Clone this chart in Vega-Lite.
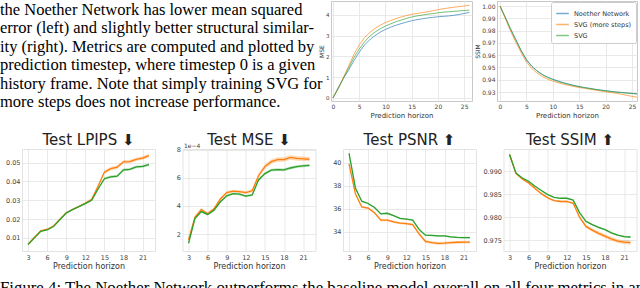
{
"$schema": "https://vega.github.io/schema/vega-lite/v6.json",
"padding": 0,
"background": "white",
"config": {
  "font": "DejaVu Sans",
  "view": {"stroke": "#d9d9d9"},
  "axis": {"grid": true, "gridColor": "#e3e3e3", "gridWidth": 0.8, "domain": false, "ticks": false, "labelFontSize": 6.5, "labelColor": "#444444", "labelPadding": 2, "labelOverlap": false, "titleFontSize": 8, "titleFontWeight": "normal", "titleColor": "#333333", "titlePadding": 2},
  "title": {"fontSize": 15, "fontWeight": "normal", "color": "#222222", "offset": 1},
  "legend": {"orient": "top-right", "offset": 2, "fillColor": "rgba(255,255,255,0.85)", "strokeColor": "#cccccc", "padding": 3, "cornerRadius": 2, "labelFontSize": 6, "labelColor": "#333333", "symbolType": "stroke", "symbolStrokeWidth": 1.5, "symbolSize": 120, "rowPadding": 1, "title": null, "labelLimit": 200}
},
"datasets": {
  "para": [
    {"line": 1, "indent": 0, "text": "the Noether Network has lower mean squared"},
    {"line": 2, "indent": 0, "text": "error (left) and slightly better structural similar-"},
    {"line": 3, "indent": 0, "text": "ity (right). Metrics are computed and plotted by"},
    {"line": 4, "indent": 0, "text": "prediction timestep, where timestep 0 is a given"},
    {"line": 5, "indent": 0, "text": "history frame. Note that simply training SVG for"},
    {"line": 6, "indent": 0, "text": "more steps does not increase performance."}
  ],
  "caption": [
    {"line": 1, "indent": 0, "text": "Figure 4: The Noether Network outperforms the baseline model overall on all four metrics in and"}
  ],
  "top_mse": [
    {"model":"Noether Network","t":0,"v":0},{"model":"Noether Network","t":1,"v":0.5},{"model":"Noether Network","t":2,"v":0.95},{"model":"Noether Network","t":3,"v":1.35},{"model":"Noether Network","t":4,"v":1.8},{"model":"Noether Network","t":5,"v":2.2},{"model":"Noether Network","t":6,"v":2.55},{"model":"Noether Network","t":7,"v":2.8},{"model":"Noether Network","t":8,"v":3.0},{"model":"Noether Network","t":9,"v":3.17},{"model":"Noether Network","t":10,"v":3.3},{"model":"Noether Network","t":11,"v":3.41},{"model":"Noether Network","t":12,"v":3.5},{"model":"Noether Network","t":13,"v":3.58},{"model":"Noether Network","t":14,"v":3.65},{"model":"Noether Network","t":15,"v":3.72},{"model":"Noether Network","t":16,"v":3.77},{"model":"Noether Network","t":17,"v":3.81},{"model":"Noether Network","t":18,"v":3.85},{"model":"Noether Network","t":19,"v":3.88},{"model":"Noether Network","t":20,"v":3.91},{"model":"Noether Network","t":21,"v":3.93},{"model":"Noether Network","t":22,"v":3.95},{"model":"Noether Network","t":23,"v":3.98},{"model":"Noether Network","t":24,"v":4.02},{"model":"Noether Network","t":25,"v":4.07},{"model":"Noether Network","t":26,"v":4.12},
    {"model":"SVG (more steps)","t":0,"v":0},{"model":"SVG (more steps)","t":1,"v":0.45},{"model":"SVG (more steps)","t":2,"v":1.0},{"model":"SVG (more steps)","t":3,"v":1.55},{"model":"SVG (more steps)","t":4,"v":2.1},{"model":"SVG (more steps)","t":5,"v":2.55},{"model":"SVG (more steps)","t":6,"v":2.9},{"model":"SVG (more steps)","t":7,"v":3.15},{"model":"SVG (more steps)","t":8,"v":3.35},{"model":"SVG (more steps)","t":9,"v":3.5},{"model":"SVG (more steps)","t":10,"v":3.63},{"model":"SVG (more steps)","t":11,"v":3.73},{"model":"SVG (more steps)","t":12,"v":3.82},{"model":"SVG (more steps)","t":13,"v":3.9},{"model":"SVG (more steps)","t":14,"v":3.97},{"model":"SVG (more steps)","t":15,"v":4.03},{"model":"SVG (more steps)","t":16,"v":4.07},{"model":"SVG (more steps)","t":17,"v":4.11},{"model":"SVG (more steps)","t":18,"v":4.15},{"model":"SVG (more steps)","t":19,"v":4.2},{"model":"SVG (more steps)","t":20,"v":4.25},{"model":"SVG (more steps)","t":21,"v":4.3},{"model":"SVG (more steps)","t":22,"v":4.33},{"model":"SVG (more steps)","t":23,"v":4.37},{"model":"SVG (more steps)","t":24,"v":4.4},{"model":"SVG (more steps)","t":25,"v":4.43},{"model":"SVG (more steps)","t":26,"v":4.46},
    {"model":"SVG","t":0,"v":0},{"model":"SVG","t":1,"v":0.45},{"model":"SVG","t":2,"v":0.95},{"model":"SVG","t":3,"v":1.45},{"model":"SVG","t":4,"v":1.95},{"model":"SVG","t":5,"v":2.35},{"model":"SVG","t":6,"v":2.7},{"model":"SVG","t":7,"v":2.97},{"model":"SVG","t":8,"v":3.17},{"model":"SVG","t":9,"v":3.33},{"model":"SVG","t":10,"v":3.46},{"model":"SVG","t":11,"v":3.57},{"model":"SVG","t":12,"v":3.67},{"model":"SVG","t":13,"v":3.75},{"model":"SVG","t":14,"v":3.83},{"model":"SVG","t":15,"v":3.9},{"model":"SVG","t":16,"v":3.95},{"model":"SVG","t":17,"v":3.99},{"model":"SVG","t":18,"v":4.03},{"model":"SVG","t":19,"v":4.06},{"model":"SVG","t":20,"v":4.1},{"model":"SVG","t":21,"v":4.13},{"model":"SVG","t":22,"v":4.15},{"model":"SVG","t":23,"v":4.17},{"model":"SVG","t":24,"v":4.19},{"model":"SVG","t":25,"v":4.21},{"model":"SVG","t":26,"v":4.23}
  ],
  "top_ssim": [
    {"model":"Noether Network","t":0,"v":1.0},{"model":"Noether Network","t":1,"v":0.9905},{"model":"Noether Network","t":2,"v":0.981},{"model":"Noether Network","t":3,"v":0.9725},{"model":"Noether Network","t":4,"v":0.9635},{"model":"Noether Network","t":5,"v":0.956},{"model":"Noether Network","t":6,"v":0.951},{"model":"Noether Network","t":7,"v":0.9472},{"model":"Noether Network","t":8,"v":0.9443},{"model":"Noether Network","t":9,"v":0.9421},{"model":"Noether Network","t":10,"v":0.9405},{"model":"Noether Network","t":11,"v":0.939},{"model":"Noether Network","t":12,"v":0.9377},{"model":"Noether Network","t":13,"v":0.9365},{"model":"Noether Network","t":14,"v":0.9354},{"model":"Noether Network","t":15,"v":0.9345},{"model":"Noether Network","t":16,"v":0.9337},{"model":"Noether Network","t":17,"v":0.933},{"model":"Noether Network","t":18,"v":0.9323},{"model":"Noether Network","t":19,"v":0.9317},{"model":"Noether Network","t":20,"v":0.9311},{"model":"Noether Network","t":21,"v":0.9306},{"model":"Noether Network","t":22,"v":0.9301},{"model":"Noether Network","t":23,"v":0.9297},{"model":"Noether Network","t":24,"v":0.9293},{"model":"Noether Network","t":25,"v":0.9289},{"model":"Noether Network","t":26,"v":0.9285},
    {"model":"SVG (more steps)","t":0,"v":1.0},{"model":"SVG (more steps)","t":1,"v":0.99},{"model":"SVG (more steps)","t":2,"v":0.9795},{"model":"SVG (more steps)","t":3,"v":0.9705},{"model":"SVG (more steps)","t":4,"v":0.962},{"model":"SVG (more steps)","t":5,"v":0.9545},{"model":"SVG (more steps)","t":6,"v":0.9493},{"model":"SVG (more steps)","t":7,"v":0.9455},{"model":"SVG (more steps)","t":8,"v":0.9427},{"model":"SVG (more steps)","t":9,"v":0.9405},{"model":"SVG (more steps)","t":10,"v":0.9389},{"model":"SVG (more steps)","t":11,"v":0.9376},{"model":"SVG (more steps)","t":12,"v":0.9364},{"model":"SVG (more steps)","t":13,"v":0.9354},{"model":"SVG (more steps)","t":14,"v":0.9345},{"model":"SVG (more steps)","t":15,"v":0.9337},{"model":"SVG (more steps)","t":16,"v":0.933},{"model":"SVG (more steps)","t":17,"v":0.9323},{"model":"SVG (more steps)","t":18,"v":0.9316},{"model":"SVG (more steps)","t":19,"v":0.9309},{"model":"SVG (more steps)","t":20,"v":0.9302},{"model":"SVG (more steps)","t":21,"v":0.9296},{"model":"SVG (more steps)","t":22,"v":0.929},{"model":"SVG (more steps)","t":23,"v":0.9282},{"model":"SVG (more steps)","t":24,"v":0.9273},{"model":"SVG (more steps)","t":25,"v":0.9265},{"model":"SVG (more steps)","t":26,"v":0.9258},
    {"model":"SVG","t":0,"v":1.0},{"model":"SVG","t":1,"v":0.991},{"model":"SVG","t":2,"v":0.9815},{"model":"SVG","t":3,"v":0.9725},{"model":"SVG","t":4,"v":0.964},{"model":"SVG","t":5,"v":0.9565},{"model":"SVG","t":6,"v":0.9512},{"model":"SVG","t":7,"v":0.9472},{"model":"SVG","t":8,"v":0.9442},{"model":"SVG","t":9,"v":0.9419},{"model":"SVG","t":10,"v":0.9401},{"model":"SVG","t":11,"v":0.9386},{"model":"SVG","t":12,"v":0.9373},{"model":"SVG","t":13,"v":0.9362},{"model":"SVG","t":14,"v":0.9352},{"model":"SVG","t":15,"v":0.9343},{"model":"SVG","t":16,"v":0.9335},{"model":"SVG","t":17,"v":0.9328},{"model":"SVG","t":18,"v":0.9321},{"model":"SVG","t":19,"v":0.9315},{"model":"SVG","t":20,"v":0.9309},{"model":"SVG","t":21,"v":0.9304},{"model":"SVG","t":22,"v":0.9299},{"model":"SVG","t":23,"v":0.9295},{"model":"SVG","t":24,"v":0.9291},{"model":"SVG","t":25,"v":0.9288},{"model":"SVG","t":26,"v":0.9285}
  ],
  "bottom": [
    {"metric":"LPIPS","model":"SVG baseline","h":3,"v":0.0066,"lo":0.0064,"hi":0.0068},{"metric":"LPIPS","model":"SVG baseline","h":4,"v":0.0102,"lo":0.0100,"hi":0.0104},{"metric":"LPIPS","model":"SVG baseline","h":5,"v":0.0138,"lo":0.0136,"hi":0.0140},{"metric":"LPIPS","model":"SVG baseline","h":6,"v":0.0146,"lo":0.0144,"hi":0.0148},{"metric":"LPIPS","model":"SVG baseline","h":7,"v":0.0163,"lo":0.0161,"hi":0.0165},{"metric":"LPIPS","model":"SVG baseline","h":8,"v":0.0199,"lo":0.0197,"hi":0.0201},{"metric":"LPIPS","model":"SVG baseline","h":9,"v":0.0234,"lo":0.0232,"hi":0.0236},{"metric":"LPIPS","model":"SVG baseline","h":10,"v":0.0252,"lo":0.0250,"hi":0.0254},{"metric":"LPIPS","model":"SVG baseline","h":11,"v":0.0268,"lo":0.0266,"hi":0.0270},{"metric":"LPIPS","model":"SVG baseline","h":12,"v":0.0285,"lo":0.0283,"hi":0.0287},{"metric":"LPIPS","model":"SVG baseline","h":13,"v":0.0305,"lo":0.0302,"hi":0.0308},{"metric":"LPIPS","model":"SVG baseline","h":14,"v":0.0375,"lo":0.0369,"hi":0.0381},{"metric":"LPIPS","model":"SVG baseline","h":15,"v":0.0450,"lo":0.0441,"hi":0.0459},{"metric":"LPIPS","model":"SVG baseline","h":16,"v":0.0468,"lo":0.0459,"hi":0.0477},{"metric":"LPIPS","model":"SVG baseline","h":17,"v":0.0476,"lo":0.0467,"hi":0.0485},{"metric":"LPIPS","model":"SVG baseline","h":18,"v":0.0505,"lo":0.0496,"hi":0.0514},{"metric":"LPIPS","model":"SVG baseline","h":19,"v":0.0506,"lo":0.0497,"hi":0.0515},{"metric":"LPIPS","model":"SVG baseline","h":20,"v":0.0518,"lo":0.0509,"hi":0.0527},{"metric":"LPIPS","model":"SVG baseline","h":21,"v":0.0525,"lo":0.0516,"hi":0.0534},{"metric":"LPIPS","model":"SVG baseline","h":22,"v":0.0538,"lo":0.0529,"hi":0.0547},
    {"metric":"LPIPS","model":"Noether Network (1 step)","h":3,"v":0.0065,"lo":0.0063,"hi":0.0067},{"metric":"LPIPS","model":"Noether Network (1 step)","h":4,"v":0.0100,"lo":0.0098,"hi":0.0102},{"metric":"LPIPS","model":"Noether Network (1 step)","h":5,"v":0.0135,"lo":0.0133,"hi":0.0137},{"metric":"LPIPS","model":"Noether Network (1 step)","h":6,"v":0.0142,"lo":0.0140,"hi":0.0144},{"metric":"LPIPS","model":"Noether Network (1 step)","h":7,"v":0.0160,"lo":0.0158,"hi":0.0162},{"metric":"LPIPS","model":"Noether Network (1 step)","h":8,"v":0.0196,"lo":0.0194,"hi":0.0198},{"metric":"LPIPS","model":"Noether Network (1 step)","h":9,"v":0.0232,"lo":0.0230,"hi":0.0234},{"metric":"LPIPS","model":"Noether Network (1 step)","h":10,"v":0.0250,"lo":0.0248,"hi":0.0252},{"metric":"LPIPS","model":"Noether Network (1 step)","h":11,"v":0.0266,"lo":0.0264,"hi":0.0268},{"metric":"LPIPS","model":"Noether Network (1 step)","h":12,"v":0.0282,"lo":0.0280,"hi":0.0284},{"metric":"LPIPS","model":"Noether Network (1 step)","h":13,"v":0.0300,"lo":0.0297,"hi":0.0303},{"metric":"LPIPS","model":"Noether Network (1 step)","h":14,"v":0.0360,"lo":0.0355,"hi":0.0365},{"metric":"LPIPS","model":"Noether Network (1 step)","h":15,"v":0.0415,"lo":0.0408,"hi":0.0422},{"metric":"LPIPS","model":"Noether Network (1 step)","h":16,"v":0.0425,"lo":0.0418,"hi":0.0432},{"metric":"LPIPS","model":"Noether Network (1 step)","h":17,"v":0.0428,"lo":0.0421,"hi":0.0435},{"metric":"LPIPS","model":"Noether Network (1 step)","h":18,"v":0.0462,"lo":0.0455,"hi":0.0469},{"metric":"LPIPS","model":"Noether Network (1 step)","h":19,"v":0.0465,"lo":0.0458,"hi":0.0472},{"metric":"LPIPS","model":"Noether Network (1 step)","h":20,"v":0.0478,"lo":0.0471,"hi":0.0485},{"metric":"LPIPS","model":"Noether Network (1 step)","h":21,"v":0.0480,"lo":0.0473,"hi":0.0487},{"metric":"LPIPS","model":"Noether Network (1 step)","h":22,"v":0.0490,"lo":0.0483,"hi":0.0497},
    {"metric":"MSE","model":"SVG baseline","h":3,"v":1.60,"lo":1.50,"hi":1.70},{"metric":"MSE","model":"SVG baseline","h":4,"v":3.20,"lo":3.10,"hi":3.30},{"metric":"MSE","model":"SVG baseline","h":5,"v":3.75,"lo":3.65,"hi":3.85},{"metric":"MSE","model":"SVG baseline","h":6,"v":3.45,"lo":3.35,"hi":3.55},{"metric":"MSE","model":"SVG baseline","h":7,"v":3.80,"lo":3.70,"hi":3.90},{"metric":"MSE","model":"SVG baseline","h":8,"v":4.50,"lo":4.40,"hi":4.60},{"metric":"MSE","model":"SVG baseline","h":9,"v":4.95,"lo":4.85,"hi":5.05},{"metric":"MSE","model":"SVG baseline","h":10,"v":5.05,"lo":4.95,"hi":5.15},{"metric":"MSE","model":"SVG baseline","h":11,"v":5.02,"lo":4.92,"hi":5.12},{"metric":"MSE","model":"SVG baseline","h":12,"v":4.95,"lo":4.85,"hi":5.05},{"metric":"MSE","model":"SVG baseline","h":13,"v":5.08,"lo":4.96,"hi":5.20},{"metric":"MSE","model":"SVG baseline","h":14,"v":6.15,"lo":6.00,"hi":6.30},{"metric":"MSE","model":"SVG baseline","h":15,"v":6.80,"lo":6.64,"hi":6.96},{"metric":"MSE","model":"SVG baseline","h":16,"v":7.15,"lo":6.99,"hi":7.31},{"metric":"MSE","model":"SVG baseline","h":17,"v":7.30,"lo":7.14,"hi":7.46},{"metric":"MSE","model":"SVG baseline","h":18,"v":7.30,"lo":7.14,"hi":7.46},{"metric":"MSE","model":"SVG baseline","h":19,"v":7.45,"lo":7.29,"hi":7.61},{"metric":"MSE","model":"SVG baseline","h":20,"v":7.38,"lo":7.22,"hi":7.54},{"metric":"MSE","model":"SVG baseline","h":21,"v":7.35,"lo":7.19,"hi":7.51},{"metric":"MSE","model":"SVG baseline","h":22,"v":7.32,"lo":7.16,"hi":7.48},
    {"metric":"MSE","model":"Noether Network (1 step)","h":3,"v":1.35,"lo":1.27,"hi":1.43},{"metric":"MSE","model":"Noether Network (1 step)","h":4,"v":3.10,"lo":3.02,"hi":3.18},{"metric":"MSE","model":"Noether Network (1 step)","h":5,"v":3.60,"lo":3.52,"hi":3.68},{"metric":"MSE","model":"Noether Network (1 step)","h":6,"v":3.40,"lo":3.32,"hi":3.48},{"metric":"MSE","model":"Noether Network (1 step)","h":7,"v":3.70,"lo":3.62,"hi":3.78},{"metric":"MSE","model":"Noether Network (1 step)","h":8,"v":4.30,"lo":4.22,"hi":4.38},{"metric":"MSE","model":"Noether Network (1 step)","h":9,"v":4.72,"lo":4.64,"hi":4.80},{"metric":"MSE","model":"Noether Network (1 step)","h":10,"v":4.88,"lo":4.80,"hi":4.96},{"metric":"MSE","model":"Noether Network (1 step)","h":11,"v":4.85,"lo":4.77,"hi":4.93},{"metric":"MSE","model":"Noether Network (1 step)","h":12,"v":4.70,"lo":4.62,"hi":4.78},{"metric":"MSE","model":"Noether Network (1 step)","h":13,"v":4.78,"lo":4.70,"hi":4.86},{"metric":"MSE","model":"Noether Network (1 step)","h":14,"v":5.85,"lo":5.75,"hi":5.95},{"metric":"MSE","model":"Noether Network (1 step)","h":15,"v":6.30,"lo":6.20,"hi":6.40},{"metric":"MSE","model":"Noether Network (1 step)","h":16,"v":6.55,"lo":6.45,"hi":6.65},{"metric":"MSE","model":"Noether Network (1 step)","h":17,"v":6.58,"lo":6.48,"hi":6.68},{"metric":"MSE","model":"Noether Network (1 step)","h":18,"v":6.56,"lo":6.46,"hi":6.66},{"metric":"MSE","model":"Noether Network (1 step)","h":19,"v":6.70,"lo":6.60,"hi":6.80},{"metric":"MSE","model":"Noether Network (1 step)","h":20,"v":6.80,"lo":6.70,"hi":6.90},{"metric":"MSE","model":"Noether Network (1 step)","h":21,"v":6.85,"lo":6.75,"hi":6.95},{"metric":"MSE","model":"Noether Network (1 step)","h":22,"v":6.88,"lo":6.78,"hi":6.98},
    {"metric":"PSNR","model":"SVG baseline","h":3,"v":39.90,"lo":39.82,"hi":39.98},{"metric":"PSNR","model":"SVG baseline","h":4,"v":37.30,"lo":37.22,"hi":37.38},{"metric":"PSNR","model":"SVG baseline","h":5,"v":36.15,"lo":36.07,"hi":36.23},{"metric":"PSNR","model":"SVG baseline","h":6,"v":36.05,"lo":35.97,"hi":36.13},{"metric":"PSNR","model":"SVG baseline","h":7,"v":35.65,"lo":35.57,"hi":35.73},{"metric":"PSNR","model":"SVG baseline","h":8,"v":35.00,"lo":34.90,"hi":35.10},{"metric":"PSNR","model":"SVG baseline","h":9,"v":35.00,"lo":34.90,"hi":35.10},{"metric":"PSNR","model":"SVG baseline","h":10,"v":34.85,"lo":34.75,"hi":34.95},{"metric":"PSNR","model":"SVG baseline","h":11,"v":34.75,"lo":34.65,"hi":34.85},{"metric":"PSNR","model":"SVG baseline","h":12,"v":34.70,"lo":34.60,"hi":34.80},{"metric":"PSNR","model":"SVG baseline","h":13,"v":34.62,"lo":34.52,"hi":34.72},{"metric":"PSNR","model":"SVG baseline","h":14,"v":33.80,"lo":33.68,"hi":33.92},{"metric":"PSNR","model":"SVG baseline","h":15,"v":33.15,"lo":33.03,"hi":33.27},{"metric":"PSNR","model":"SVG baseline","h":16,"v":33.05,"lo":32.93,"hi":33.17},{"metric":"PSNR","model":"SVG baseline","h":17,"v":32.98,"lo":32.86,"hi":33.10},{"metric":"PSNR","model":"SVG baseline","h":18,"v":33.00,"lo":32.88,"hi":33.12},{"metric":"PSNR","model":"SVG baseline","h":19,"v":33.05,"lo":32.93,"hi":33.17},{"metric":"PSNR","model":"SVG baseline","h":20,"v":33.08,"lo":32.96,"hi":33.20},{"metric":"PSNR","model":"SVG baseline","h":21,"v":33.10,"lo":32.98,"hi":33.22},{"metric":"PSNR","model":"SVG baseline","h":22,"v":33.10,"lo":32.98,"hi":33.22},
    {"metric":"PSNR","model":"Noether Network (1 step)","h":3,"v":40.80,"lo":40.74,"hi":40.86},{"metric":"PSNR","model":"Noether Network (1 step)","h":4,"v":37.80,"lo":37.74,"hi":37.86},{"metric":"PSNR","model":"Noether Network (1 step)","h":5,"v":36.65,"lo":36.59,"hi":36.71},{"metric":"PSNR","model":"Noether Network (1 step)","h":6,"v":36.45,"lo":36.39,"hi":36.51},{"metric":"PSNR","model":"Noether Network (1 step)","h":7,"v":36.10,"lo":36.04,"hi":36.16},{"metric":"PSNR","model":"Noether Network (1 step)","h":8,"v":35.55,"lo":35.49,"hi":35.61},{"metric":"PSNR","model":"Noether Network (1 step)","h":9,"v":35.60,"lo":35.54,"hi":35.66},{"metric":"PSNR","model":"Noether Network (1 step)","h":10,"v":35.40,"lo":35.34,"hi":35.46},{"metric":"PSNR","model":"Noether Network (1 step)","h":11,"v":35.15,"lo":35.09,"hi":35.21},{"metric":"PSNR","model":"Noether Network (1 step)","h":12,"v":35.10,"lo":35.04,"hi":35.16},{"metric":"PSNR","model":"Noether Network (1 step)","h":13,"v":35.00,"lo":34.94,"hi":35.06},{"metric":"PSNR","model":"Noether Network (1 step)","h":14,"v":34.20,"lo":34.13,"hi":34.27},{"metric":"PSNR","model":"Noether Network (1 step)","h":15,"v":33.70,"lo":33.63,"hi":33.77},{"metric":"PSNR","model":"Noether Network (1 step)","h":16,"v":33.68,"lo":33.61,"hi":33.75},{"metric":"PSNR","model":"Noether Network (1 step)","h":17,"v":33.63,"lo":33.56,"hi":33.70},{"metric":"PSNR","model":"Noether Network (1 step)","h":18,"v":33.63,"lo":33.56,"hi":33.70},{"metric":"PSNR","model":"Noether Network (1 step)","h":19,"v":33.55,"lo":33.48,"hi":33.62},{"metric":"PSNR","model":"Noether Network (1 step)","h":20,"v":33.50,"lo":33.43,"hi":33.57},{"metric":"PSNR","model":"Noether Network (1 step)","h":21,"v":33.48,"lo":33.41,"hi":33.55},{"metric":"PSNR","model":"Noether Network (1 step)","h":22,"v":33.48,"lo":33.41,"hi":33.55},
    {"metric":"SSIM","model":"SVG baseline","h":3,"v":0.9936,"lo":0.9934,"hi":0.9938},{"metric":"SSIM","model":"SVG baseline","h":4,"v":0.9895,"lo":0.9893,"hi":0.9897},{"metric":"SSIM","model":"SVG baseline","h":5,"v":0.9883,"lo":0.9881,"hi":0.9885},{"metric":"SSIM","model":"SVG baseline","h":6,"v":0.9874,"lo":0.9872,"hi":0.9876},{"metric":"SSIM","model":"SVG baseline","h":7,"v":0.9862,"lo":0.9860,"hi":0.9864},{"metric":"SSIM","model":"SVG baseline","h":8,"v":0.9851,"lo":0.9849,"hi":0.9853},{"metric":"SSIM","model":"SVG baseline","h":9,"v":0.9842,"lo":0.9840,"hi":0.9844},{"metric":"SSIM","model":"SVG baseline","h":10,"v":0.9836,"lo":0.9834,"hi":0.9838},{"metric":"SSIM","model":"SVG baseline","h":11,"v":0.9834,"lo":0.9832,"hi":0.9836},{"metric":"SSIM","model":"SVG baseline","h":12,"v":0.9834,"lo":0.9832,"hi":0.9836},{"metric":"SSIM","model":"SVG baseline","h":13,"v":0.9830,"lo":0.9828,"hi":0.9832},{"metric":"SSIM","model":"SVG baseline","h":14,"v":0.9800,"lo":0.9797,"hi":0.9803},{"metric":"SSIM","model":"SVG baseline","h":15,"v":0.9780,"lo":0.9777,"hi":0.9783},{"metric":"SSIM","model":"SVG baseline","h":16,"v":0.9772,"lo":0.9768,"hi":0.9776},{"metric":"SSIM","model":"SVG baseline","h":17,"v":0.9765,"lo":0.9761,"hi":0.9769},{"metric":"SSIM","model":"SVG baseline","h":18,"v":0.9759,"lo":0.9755,"hi":0.9763},{"metric":"SSIM","model":"SVG baseline","h":19,"v":0.9753,"lo":0.9749,"hi":0.9757},{"metric":"SSIM","model":"SVG baseline","h":20,"v":0.9748,"lo":0.9744,"hi":0.9752},{"metric":"SSIM","model":"SVG baseline","h":21,"v":0.9746,"lo":0.9742,"hi":0.9750},{"metric":"SSIM","model":"SVG baseline","h":22,"v":0.9745,"lo":0.9740,"hi":0.9750},
    {"metric":"SSIM","model":"Noether Network (1 step)","h":3,"v":0.9936,"lo":0.9935,"hi":0.9937},{"metric":"SSIM","model":"Noether Network (1 step)","h":4,"v":0.9896,"lo":0.9895,"hi":0.9897},{"metric":"SSIM","model":"Noether Network (1 step)","h":5,"v":0.9885,"lo":0.9884,"hi":0.9886},{"metric":"SSIM","model":"Noether Network (1 step)","h":6,"v":0.9878,"lo":0.9877,"hi":0.9879},{"metric":"SSIM","model":"Noether Network (1 step)","h":7,"v":0.9867,"lo":0.9866,"hi":0.9868},{"metric":"SSIM","model":"Noether Network (1 step)","h":8,"v":0.9858,"lo":0.9857,"hi":0.9859},{"metric":"SSIM","model":"Noether Network (1 step)","h":9,"v":0.9849,"lo":0.9848,"hi":0.9850},{"metric":"SSIM","model":"Noether Network (1 step)","h":10,"v":0.9843,"lo":0.9842,"hi":0.9844},{"metric":"SSIM","model":"Noether Network (1 step)","h":11,"v":0.9841,"lo":0.9840,"hi":0.9842},{"metric":"SSIM","model":"Noether Network (1 step)","h":12,"v":0.9841,"lo":0.9840,"hi":0.9842},{"metric":"SSIM","model":"Noether Network (1 step)","h":13,"v":0.9837,"lo":0.9836,"hi":0.9838},{"metric":"SSIM","model":"Noether Network (1 step)","h":14,"v":0.9810,"lo":0.9808,"hi":0.9812},{"metric":"SSIM","model":"Noether Network (1 step)","h":15,"v":0.9791,"lo":0.9789,"hi":0.9793},{"metric":"SSIM","model":"Noether Network (1 step)","h":16,"v":0.9784,"lo":0.9782,"hi":0.9786},{"metric":"SSIM","model":"Noether Network (1 step)","h":17,"v":0.9778,"lo":0.9776,"hi":0.9780},{"metric":"SSIM","model":"Noether Network (1 step)","h":18,"v":0.9773,"lo":0.9771,"hi":0.9775},{"metric":"SSIM","model":"Noether Network (1 step)","h":19,"v":0.9766,"lo":0.9764,"hi":0.9768},{"metric":"SSIM","model":"Noether Network (1 step)","h":20,"v":0.9761,"lo":0.9759,"hi":0.9763},{"metric":"SSIM","model":"Noether Network (1 step)","h":21,"v":0.9758,"lo":0.9756,"hi":0.9760},{"metric":"SSIM","model":"Noether Network (1 step)","h":22,"v":0.9757,"lo":0.9755,"hi":0.9759}
  ]
},
"bounds": "flush",
"spacing": 148,
"resolve": {"scale": {"color": "independent"}},
"vconcat": [
  {
    "bounds": "flush",
    "spacing": 25,
    "resolve": {"scale": {"color": "independent"}},
    "hconcat": [
      {
        "width": 284, "height": 100,
        "view": {"stroke": null},
        "data": {"name": "para"},
        "mark": {"type": "text", "align": "left", "baseline": "middle", "font": "Liberation Serif", "fontSize": 16.5, "color": "#000000", "dx": -22},
        "encoding": {
          "x": {"field": "indent", "type": "quantitative", "scale": {"domain": [0, 1]}, "axis": null},
          "y": {"field": "line", "type": "quantitative", "scale": {"domain": [0.5135, 5.919], "reverse": true, "nice": false, "zero": false}, "axis": null},
          "text": {"field": "text"}
        }
      },
      {
        "width": 141, "height": 100,
        "view": {"stroke": "#c8c8c8"},
        "data": {"name": "top_mse"},
        "mark": {"type": "line", "strokeWidth": 1, "opacity": 0.65, "clip": true},
        "encoding": {
          "x": {"field": "t", "type": "quantitative", "scale": {"domain": [-0.38, 26.5], "nice": false, "zero": false}, "axis": {"values": [0,5,10,15,20,25], "labelOverlap": false, "title": "Prediction horizon", "labelFontSize": 6, "titleFontSize": 7}},
          "y": {"field": "v", "type": "quantitative", "scale": {"domain": [-0.15, 4.67], "nice": false, "zero": false}, "axis": {"values": [0,1,2,3,4], "labelOverlap": false, "title": "MSE", "labelFontSize": 5.5, "titleFontSize": 6, "titlePadding": 1}},
          "color": {"field": "model", "type": "nominal", "scale": {"domain": ["Noether Network", "SVG (more steps)", "SVG"], "range": ["#1f77b4", "#ff7f0e", "#2ca02c"]}, "legend": null}
        }
      },
      {
        "width": 140, "height": 100,
        "view": {"stroke": "#c8c8c8"},
        "data": {"name": "top_ssim"},
        "mark": {"type": "line", "strokeWidth": 1, "opacity": 0.65, "clip": true},
        "encoding": {
          "x": {"field": "t", "type": "quantitative", "scale": {"domain": [-0.57, 25.95], "nice": false, "zero": false}, "axis": {"values": [0,5,10,15,20,25], "labelOverlap": false, "title": "Prediction horizon", "labelFontSize": 6, "titleFontSize": 7}},
          "y": {"field": "v", "type": "quantitative", "scale": {"domain": [0.9227, 1.0041], "nice": false, "zero": false}, "axis": {"values": [0.93,0.94,0.95,0.96,0.97,0.98,0.99,1.0], "labelOverlap": false, "format": ".2f", "title": "SSIM", "labelFontSize": 6, "titleFontSize": 6, "titlePadding": 1}},
          "color": {"field": "model", "type": "nominal", "scale": {"domain": ["Noether Network", "SVG (more steps)", "SVG"], "range": ["#1f77b4", "#ff7f0e", "#2ca02c"]}, "legend": {"orient": "top-right", "offset": 1, "labelFontSize": 6.5, "symbolOpacity": 0.6, "symbolSize": 160, "rowPadding": -4, "padding": 4}}
        }
      }
    ]
  },
  {
    "bounds": "flush",
    "spacing": 27.5,
    "resolve": {"scale": {"color": "independent"}},
    "hconcat": [
      {
        "width": 133, "height": 102,
        "view": {"stroke": "#e3e3e3"},
        "title": {"text": "Test LPIPS ⬇"},
        "data": {"name": "bottom"},
        "transform": [{"filter": "datum.metric === 'LPIPS'"}],
        "encoding": {
          "x": {"field": "h", "type": "quantitative", "scale": {"domain": [2.05, 22.95], "nice": false, "zero": false}, "axis": {"values": [3,6,9,12,15,18,21], "labelOverlap": false, "title": "Prediction horizon", "labelPadding": 3}},
          "color": {"field": "model", "type": "nominal", "scale": {"domain": ["Noether Network (1 step)", "SVG baseline"], "range": ["#2ca02c", "#ff7f0e"]}, "legend": null}
        },
        "layer": [
          {"mark": {"type": "area", "opacity": 0.3}, "encoding": {"y": {"field": "lo", "type": "quantitative", "scale": {"domain": [0.003, 0.0573], "nice": false, "zero": false}, "axis": {"values": [0.01,0.02,0.03,0.04,0.05], "labelOverlap": false, "format": ".2f", "title": null}}, "y2": {"field": "hi"}}},
          {"mark": {"type": "line", "strokeWidth": 1.3}, "encoding": {"y": {"field": "v", "type": "quantitative", "axis": {"values": [0.01,0.02,0.03,0.04,0.05], "labelOverlap": false, "format": ".2f", "title": null}}}}
        ]
      },
      {
        "width": 133, "height": 102,
        "view": {"stroke": "#e3e3e3"},
        "title": {"text": "Test MSE ⬇", "offset": -6},
        "data": {"name": "bottom"},
        "transform": [{"filter": "datum.metric === 'MSE'"}],
        "encoding": {
          "x": {"field": "h", "type": "quantitative", "scale": {"domain": [2.05, 22.95], "nice": false, "zero": false}, "axis": {"values": [3,6,9,12,15,18,21], "labelOverlap": false, "title": "Prediction horizon", "labelPadding": 3}},
          "color": {"field": "model", "type": "nominal", "scale": {"domain": ["Noether Network (1 step)", "SVG baseline"], "range": ["#2ca02c", "#ff7f0e"]}, "legend": null}
        },
        "layer": [
          {"mark": {"type": "area", "opacity": 0.3}, "encoding": {"y": {"field": "lo", "type": "quantitative", "scale": {"domain": [0.8, 8.05], "nice": false, "zero": false}, "axis": {"values": [2,4,6,8], "labelOverlap": false, "title": "1e−4", "titleAngle": 0, "titleAlign": "left", "titleBaseline": "bottom", "titleX": 1, "titleY": -1, "titleFontSize": 6, "titleColor": "#444444"}}, "y2": {"field": "hi"}}},
          {"mark": {"type": "line", "strokeWidth": 1.3}, "encoding": {"y": {"field": "v", "type": "quantitative", "axis": {"values": [2,4,6,8], "labelOverlap": false, "title": "1e−4", "titleAngle": 0, "titleAlign": "left", "titleBaseline": "bottom", "titleX": 1, "titleY": -1, "titleFontSize": 6, "titleColor": "#444444"}}}}
        ]
      },
      {
        "width": 133, "height": 102,
        "view": {"stroke": "#e3e3e3"},
        "title": {"text": "Test PSNR ⬆"},
        "data": {"name": "bottom"},
        "transform": [{"filter": "datum.metric === 'PSNR'"}],
        "encoding": {
          "x": {"field": "h", "type": "quantitative", "scale": {"domain": [2.05, 22.95], "nice": false, "zero": false}, "axis": {"values": [3,6,9,12,15,18,21], "labelOverlap": false, "title": "Prediction horizon", "labelPadding": 3}},
          "color": {"field": "model", "type": "nominal", "scale": {"domain": ["Noether Network (1 step)", "SVG baseline"], "range": ["#2ca02c", "#ff7f0e"]}, "legend": null}
        },
        "layer": [
          {"mark": {"type": "area", "opacity": 0.3}, "encoding": {"y": {"field": "lo", "type": "quantitative", "scale": {"domain": [32.32, 41.19], "nice": false, "zero": false}, "axis": {"values": [34,36,38,40], "labelOverlap": false, "title": null}}, "y2": {"field": "hi"}}},
          {"mark": {"type": "line", "strokeWidth": 1.3}, "encoding": {"y": {"field": "v", "type": "quantitative", "axis": {"values": [34,36,38,40], "labelOverlap": false, "title": null}}}}
        ]
      },
      {
        "width": 133, "height": 102,
        "view": {"stroke": "#e3e3e3"},
        "title": {"text": "Test SSIM ⬆"},
        "data": {"name": "bottom"},
        "transform": [{"filter": "datum.metric === 'SSIM'"}],
        "encoding": {
          "x": {"field": "h", "type": "quantitative", "scale": {"domain": [2.05, 22.95], "nice": false, "zero": false}, "axis": {"values": [3,6,9,12,15,18,21], "labelOverlap": false, "title": "Prediction horizon", "labelPadding": 3}}
        },
        "layer": [
          {"mark": {"type": "area", "opacity": 0.3}, "encoding": {"y": {"field": "lo", "type": "quantitative", "scale": {"domain": [0.97267, 0.99478], "nice": false, "zero": false}, "axis": {"values": [0.975,0.98,0.985,0.99], "labelOverlap": false, "format": ".3f", "title": null}}, "y2": {"field": "hi"},
            "color": {"field": "model", "type": "nominal", "scale": {"domain": ["Noether Network (1 step)", "SVG baseline"], "range": ["#2ca02c", "#ff7f0e"]}, "legend": null}}},
          {"mark": {"type": "line", "strokeWidth": 1.3}, "encoding": {"y": {"field": "v", "type": "quantitative", "axis": {"values": [0.975,0.98,0.985,0.99], "labelOverlap": false, "format": ".3f", "title": null}},
            "color": {"field": "model", "type": "nominal", "scale": {"domain": ["Noether Network (1 step)", "SVG baseline"], "range": ["#2ca02c", "#ff7f0e"]}, "legend": {"orient": "top-right", "offset": 4, "labelFontSize": 7, "symbolSize": 180, "symbolStrokeWidth": 1.5, "rowPadding": -4, "padding": 3}}}}
        ]
      }
    ]
  },
  {
    "width": 600, "height": 1,
    "view": {"stroke": null},
    "data": {"name": "caption"},
    "mark": {"type": "text", "align": "left", "baseline": "alphabetic", "font": "Liberation Serif", "fontSize": 16.8, "color": "#000000", "dx": -22, "dy": -4},
    "encoding": {
      "x": {"field": "indent", "type": "quantitative", "scale": {"domain": [0, 1]}, "axis": null},
      "y": {"field": "line", "type": "quantitative", "scale": {"domain": [0, 1]}, "axis": null},
      "text": {"field": "text"}
    }
  }
]
}
